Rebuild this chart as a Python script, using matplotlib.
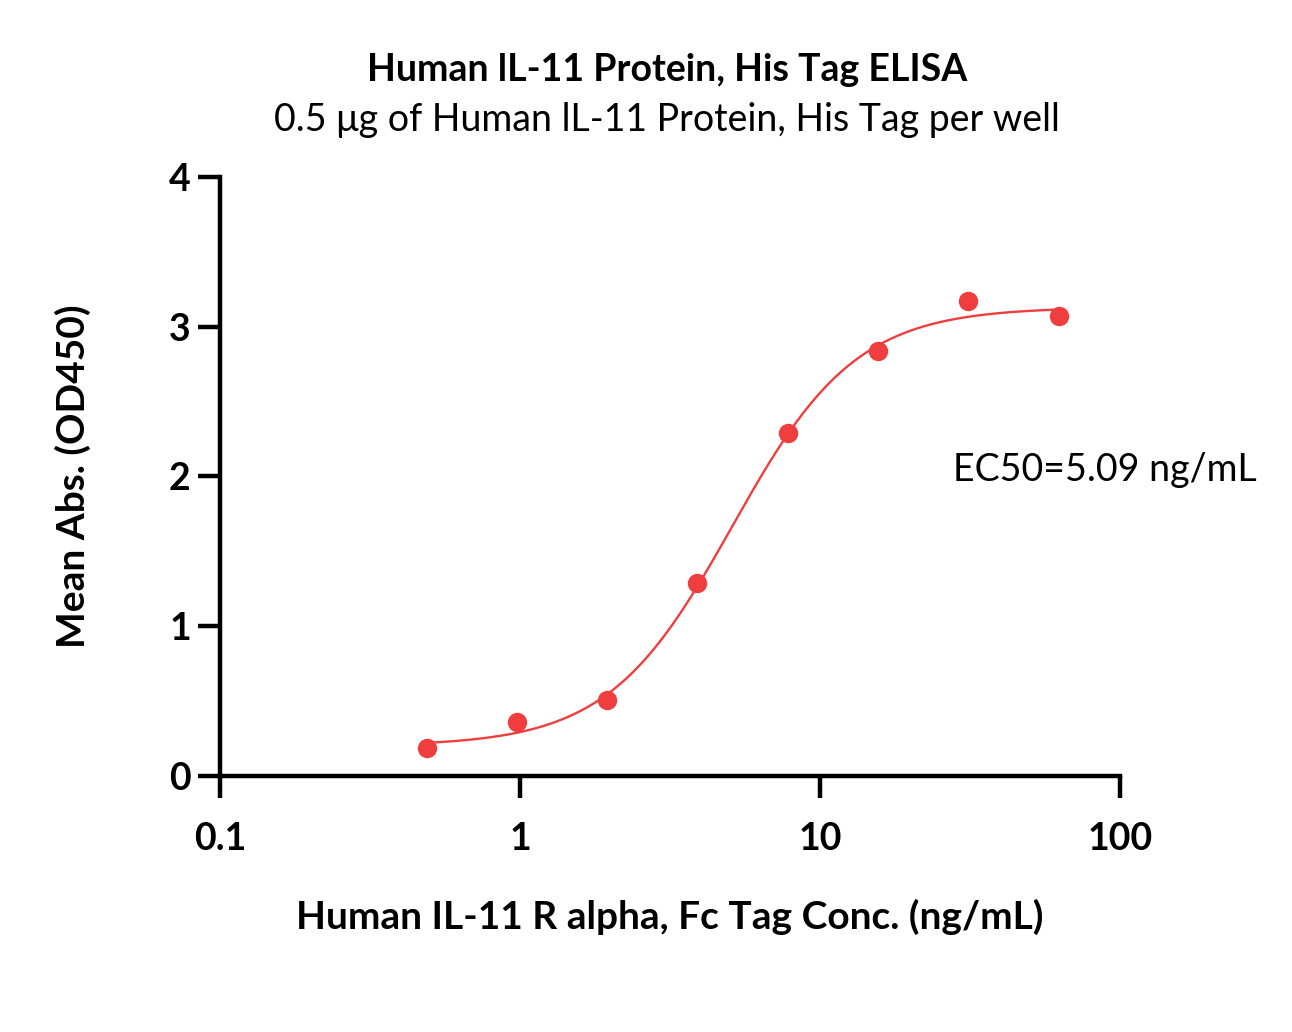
import numpy as np
import matplotlib.pyplot as plt

plt.rcParams["font.family"] = ["Lato", "DejaVu Sans"]

# measured data (ng/mL, OD450)
conc = [0.488, 0.977, 1.95, 3.9, 7.8, 15.6, 31.25, 62.5]
od450 = [0.19, 0.36, 0.51, 1.29, 2.29, 2.84, 3.17, 3.07]

# 4PL fit parameters
bottom, top, ec50, hill = 0.20, 3.13, 5.09, 2.1

red = "#F03E3E"

fig = plt.figure(figsize=(12.92, 10.32), dpi=100)
ax = fig.add_axes([0.1703, 0.2481, 0.6966, 0.5804])

xs = np.logspace(np.log10(conc[0]), np.log10(conc[-1]), 300)
fit = bottom + (top - bottom) / (1 + (ec50 / xs) ** hill)
ax.plot(xs, fit, color=red, linewidth=1.7)
ax.plot(conc, od450, "o", color=red, markersize=14, markeredgewidth=0)

ax.set_xscale("log")
ax.set_xlim(0.1, 100)
ax.set_ylim(0, 4)
ax.set_yticks([0, 1, 2, 3, 4])
ax.set_xticks([0.1, 1, 10, 100])
ax.set_xticklabels(["0.1", "1", "10", "100"])
ax.xaxis.set_minor_locator(plt.NullLocator())

for s in ["top", "right"]:
    ax.spines[s].set_visible(False)
for s in ["left", "bottom"]:
    ax.spines[s].set_linewidth(3.2)
ax.tick_params(width=3.2, length=16, labelsize=27)
ax.tick_params(axis="x", pad=17)
ax.tick_params(axis="y", pad=5)
for lab in ax.get_xticklabels() + ax.get_yticklabels():
    lab.set_fontweight("bold")

ax.set_xlabel("Human IL-11 R alpha, Fc Tag Conc. (ng/mL)", fontsize=28,
              fontweight="bold", labelpad=31)
ax.set_ylabel("Mean Abs. (OD450)", fontsize=28, fontweight="bold", labelpad=56)

fig.text(0.5165, 0.932, "Human lL-11 Protein, His Tag ELISA", fontsize=27,
         fontweight="bold", ha="center", va="center")
fig.text(0.5165, 0.884, "0.5 μg of Human lL-11 Protein, His Tag per well",
         fontsize=27, ha="center", va="center")
ax.text(0.814, 2.04, "EC50=5.09 ng/mL", transform=ax.get_yaxis_transform(),
        fontsize=27, ha="left", va="center")

fig.savefig("out.png", dpi=100)
